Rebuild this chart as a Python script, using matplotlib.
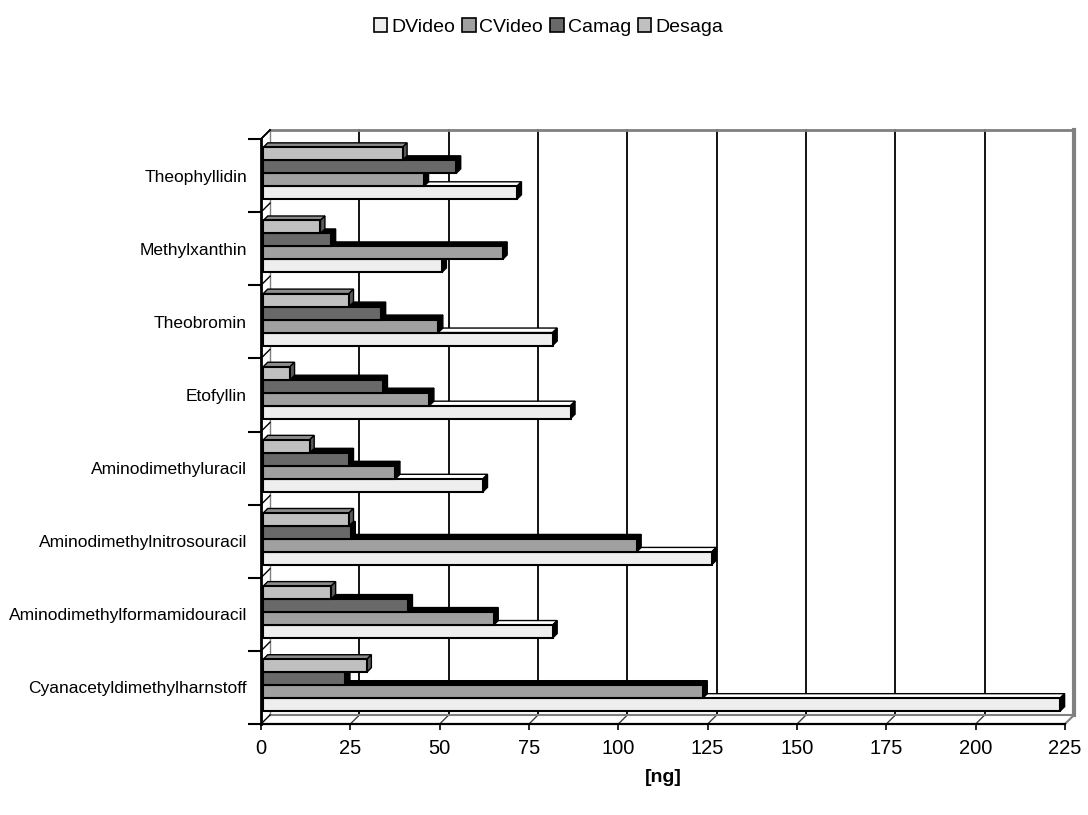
import numpy as np
import matplotlib
matplotlib.use("Agg")
import matplotlib.pyplot as plt
from matplotlib.patches import Polygon, Patch
from matplotlib.lines import Line2D

plt.rcParams['font.family'] = ['Liberation Sans', 'DejaVu Sans']

# Categories, listed bottom to top on the chart
categories = [
    "Cyanacetyldimethylharnstoff",
    "Aminodimethylformamidouracil",
    "Aminodimethylnitrosouracil",
    "Aminodimethyluracil",
    "Etofyllin",
    "Theobromin",
    "Methylxanthin",
    "Theophyllidin",
]

# Amounts in ng per method (same order as categories)
dvideo = [223, 81, 125.5, 61.5, 86, 81, 50, 71]
cvideo = [123, 64.5, 104.5, 37, 46.5, 49, 67, 45]
camag = [23, 40.5, 24.5, 24, 33.5, 33, 19, 54]
desaga = [29, 19, 24, 13, 7.5, 24, 16, 39]

series_names = ["DVideo", "CVideo", "Camag", "Desaga"]
series_values = [dvideo, cvideo, camag, desaga]
# front, top, side face colours for each series
face_colors = [
    ("#eeeeee", "#ffffff", "#000000"),
    ("#a0a0a0", "#000000", "#000000"),
    ("#696969", "#000000", "#000000"),
    ("#c0c0c0", "#8c8c8c", "#5a5a5a"),
]

x_ticks = list(range(0, 226, 25))
x_max = 225

W, H = 1088, 815
fig = plt.figure(figsize=(W / 100, H / 100), dpi=100)
fig.patch.set_facecolor("white")

left, right, top, bottom = 261, 1065, 139, 724
ax = fig.add_axes([left / W, 1 - bottom / H, (right - left) / W, (bottom - top) / H])
n = len(categories)
ax.set_xlim(0, x_max)
ax.set_ylim(-0.5, n - 0.5)
ax.patch.set_visible(False)

DEPTH = np.array([9.0, 9.0])  # wall depth in pixels (right, up)


def pt(x, y, d):
    """Data point pushed back by fraction d of the wall depth."""
    p = ax.transData.transform((x, y)) + d * DEPTH
    return ax.transData.inverted().transform(p)


def line(p0, p1, **kw):
    xs, ys = zip(pt(*p0), pt(*p1))
    ax.add_line(Line2D(xs, ys, clip_on=False, **kw))


def poly(pts, **kw):
    ax.add_patch(Polygon([pt(*p) for p in pts], closed=True, clip_on=False, **kw))


y0, y1 = -0.5, n - 0.5
# back wall, floor and side wall
poly([(0, y0, 1), (x_max, y0, 1), (x_max, y1, 1), (0, y1, 1)],
     facecolor="white", edgecolor="none", zorder=0)
for xv in x_ticks[1:-1]:
    line((xv, y0, 1), (xv, y1, 1), color="black", lw=1.3, zorder=1)
    line((xv, y0, 1), (xv, y0, 0), color="#404040", lw=1.0, zorder=1)
line((0, y0, 1), (0, y1, 1), color="#808080", lw=1.0, zorder=1)
line((0, y1, 1), (x_max, y1, 1), color="#808080", lw=2.0, zorder=1)
line((x_max, y0, 1), (x_max, y1, 1), color="#808080", lw=3.0, zorder=1)
line((0, y0, 1), (x_max, y0, 1), color="#808080", lw=1.5, zorder=1)
line((x_max, y0, 0), (x_max, y0, 1), color="#808080", lw=1.5, zorder=1)
line((0, y1, 0), (0, y1, 1), color="black", lw=1.3, zorder=1)
for b in np.arange(-0.5, n, 1.0):
    line((0, b, 0), (0, b, 1), color="black", lw=1.0, zorder=1)

# 3D bars
group = 0.71
bw = group / 4
d_front, d_back = 0.25, 0.75
for i in range(n):
    for k, vals in enumerate(series_values):
        v = vals[i]
        yb = i - group / 2 + k * bw
        yt = yb + bw
        fc, tc, sc = face_colors[k]
        z = 2 + i * 0.01 + k * 0.001
        poly([(0, yt, d_front), (v, yt, d_front), (v, yt, d_back), (0, yt, d_back)],
             facecolor=tc, edgecolor="black", lw=1.0, zorder=z)
        poly([(v, yb, d_front), (v, yt, d_front), (v, yt, d_back), (v, yb, d_back)],
             facecolor=sc, edgecolor="black", lw=1.0, zorder=z)
        poly([(0, yb, d_front), (v, yb, d_front), (v, yt, d_front), (0, yt, d_front)],
             facecolor=fc, edgecolor="black", lw=1.5, zorder=z)

# axes, ticks and labels
for s in ("top", "right"):
    ax.spines[s].set_visible(False)
ax.spines["left"].set_linewidth(2.0)
ax.spines["bottom"].set_linewidth(1.6)
ax.spines["left"].set_zorder(5)
ax.spines["bottom"].set_zorder(5)

ax.set_xticks(x_ticks)
ax.set_xticklabels([str(t) for t in x_ticks], fontsize=14.5)
ax.tick_params(axis="x", direction="out", length=4, width=1.2, pad=7)

ax.set_yticks(range(n))
ax.set_yticklabels(categories, fontsize=12.5)
ax.set_yticks(np.arange(-0.5, n, 1.0), minor=True)
ax.tick_params(axis="y", which="major", length=0, pad=10)
ax.tick_params(axis="y", which="minor", length=9.5, width=1.5)

ax.set_xlabel("[ng]", fontsize=14, fontweight="bold", labelpad=8)

handles = [Patch(facecolor=fc, edgecolor="black", lw=1.2) for fc, _, _ in face_colors]
fig.legend(handles, series_names, loc="center", bbox_to_anchor=(0.504, 1 - 27 / H),
           ncol=4, frameon=False, fontsize=14, handlelength=0.7, handleheight=0.7,
           handletextpad=0.2, columnspacing=0.35)

fig.savefig("out.png", dpi=100)
